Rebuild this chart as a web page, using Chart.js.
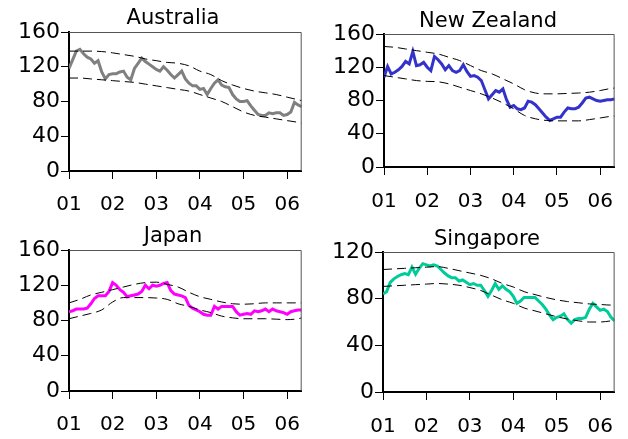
<!DOCTYPE html>
<html>
<head>
<meta charset="utf-8">
<script src="https://cdn.jsdelivr.net/npm/chart.js@4.4.0/dist/chart.umd.min.js"></script>
<style>
  html, body { margin: 0; padding: 0; background: #fff; overflow: hidden; }
  body { width: 628px; height: 439px; position: relative; }
  canvas { position: absolute; }
</style>
</head>
<body>
<canvas id="aus" width="314" height="220" style="left:0;top:0"></canvas>
<canvas id="nz" width="314" height="220" style="left:314px;top:0"></canvas>
<canvas id="jp" width="314" height="219" style="left:0;top:220px"></canvas>
<canvas id="sg" width="314" height="219" style="left:314px;top:220px"></canvas>
<script>
// monthly values from Jan 2001, bands read quarterly
const yearLabels = ["01", "02", "03", "04", "05", "06"];
const bandMonths = [0, 3, 6, 9, 12, 15, 18, 21, 24, 27, 30, 33, 36, 39, 42, 45, 48, 51, 54, 57, 60, 63, 64];

const australia = [118, 128, 138, 140, 135, 131, 129, 124, 127, 114,
  106, 111, 112, 112, 114, 115, 108, 105, 118, 124,
  130, 126, 123, 120, 117, 115, 120, 116, 111, 107,
  111, 115, 106, 101, 98, 98, 94, 95, 88, 95,
  101, 105, 99, 97, 96, 88, 83, 80, 80, 81,
  75, 70, 65, 64, 64, 67, 66, 67, 67, 64,
  65, 68, 79, 76, 74];
const australiaUpper = [138, 138, 138, 137.5, 136, 134, 132, 129, 127, 125, 124, 121, 115, 111, 104, 99, 95, 92, 90, 88, 85, 82, 81];
const australiaLower = [107, 107, 106, 105, 104, 103, 102, 100, 98, 96, 94, 92, 88, 84, 80, 74, 68, 64, 62, 60, 58, 56, 55];

const newZealand = [108, 121, 112, 114, 117, 121, 127, 124, 139, 122,
  123, 126, 120, 116, 133, 129, 124, 117, 122, 116,
  114, 116, 123, 115, 109, 110, 108, 104, 93, 82,
  87, 92, 90, 94, 81, 72, 74, 70, 69, 71,
  79, 78, 75, 70, 65, 60, 56, 58, 60, 60,
  66, 71, 70, 70, 72, 77, 83, 84, 82, 80,
  79, 80, 81, 81, 82];
const newZealandUpper = [145, 144, 142, 140, 138, 136, 132, 128, 122, 116, 112, 106, 100, 93, 89, 88, 88, 88.5, 89, 90, 92, 94.5, 95];
const newZealandLower = [110, 108, 106, 104, 103, 102.5, 100, 96, 92, 88, 83, 77, 70, 62, 58, 56, 55.5, 55.5, 55.5, 57, 59, 61, 61.5];

const japan = [90, 91, 93, 93, 93, 94, 99, 105, 108, 108,
  108, 113, 123, 120, 115, 112, 107, 108, 109, 110,
  113, 120, 116, 120, 119, 120, 122, 123, 114, 110,
  109, 108, 106, 97, 94, 92, 90, 87, 86, 86,
  96, 93, 96, 96, 96, 96, 90, 86, 87, 88,
  87, 91, 90, 91, 93, 90, 93, 91, 90, 89,
  87, 90, 91, 92, 92];
const japanUpper = [100, 104, 109, 112, 115, 118, 121, 123, 123.5, 121, 118, 112, 107, 104, 101, 99, 98.5, 99, 100, 100, 100, 100, 100];
const japanLower = [82, 85, 88, 92, 101, 106, 106, 106, 105.5, 104, 99, 96, 92, 89, 85, 83, 82, 82, 82, 81.5, 81, 82, 83];

const singapore = [84, 86, 94, 97, 99, 100.5, 101.5, 100.5, 107, 101,
  106, 110, 109, 108, 109, 108, 105, 102, 99.5, 98,
  98, 95, 96, 94, 92, 93, 91.5, 91.5, 87, 82,
  87, 93, 88, 91, 88, 86, 82, 76, 78, 81,
  81, 81, 81, 78, 75, 71, 66, 62, 64, 65,
  67, 62, 59, 62, 63, 63, 64, 71, 76, 73,
  70, 71, 69, 64, 61];
const singaporeUpper = [105, 105.5, 106, 106.5, 107, 107.5, 106, 104, 102, 100, 97, 93, 90, 86, 83.5, 81, 79, 77.5, 76.5, 75.5, 75, 74.5, 74.5];
const singaporeLower = [90.5, 91, 91.5, 92, 92.5, 93, 92.5, 91.5, 89.5, 87, 83, 79, 76, 72, 69.5, 67, 64.5, 62.5, 61, 60, 60, 61, 61.5];

const FONT = "'DejaVu Sans', Verdana, sans-serif";

// grey top/right edges of the plot box
const framePlugin = {
  id: "frame",
  afterDraw(chart) {
    const { ctx, chartArea: a } = chart;
    ctx.save();
    ctx.strokeStyle = "#555";
    ctx.lineWidth = 1;
    ctx.beginPath();
    ctx.moveTo(a.left, a.top + 0.5);
    ctx.lineTo(a.right - 0.5, a.top + 0.5);
    ctx.lineTo(a.right - 0.5, a.bottom);
    ctx.stroke();
    ctx.restore();
  }
};

// panel title, sits a bit left of the plot centre like the original
const titlePlugin = {
  id: "panelTitle",
  afterDraw(chart, args, opts) {
    const { ctx, chartArea: a } = chart;
    ctx.save();
    ctx.font = "21px " + FONT;
    ctx.fillStyle = "#000";
    ctx.textAlign = "center";
    ctx.textBaseline = "middle";
    ctx.fillText(opts.text, a.left + 104, opts.y);
    ctx.restore();
  }
};

function monthly(values) {
  return values.map((v, i) => ({ x: i / 12, y: v }));
}

function band(values) {
  return values.map((v, i) => ({ x: bandMonths[i] / 12, y: v }));
}

function makePanel(id, title, values, upper, lower, color, yMax, L) {
  const dashed = {
    borderColor: "#000",
    borderWidth: 1,
    borderDash: [9, 5],
    pointRadius: 0,
    cubicInterpolationMode: "monotone",
    fill: false,
  };
  new Chart(document.getElementById(id), {
    type: "line",
    data: {
      datasets: [
        { data: band(upper), ...dashed },
        { data: band(lower), ...dashed },
        {
          data: monthly(values),
          borderColor: color,
          borderWidth: 3,
          pointRadius: 0,
          tension: 0,
          fill: false,
        },
      ],
    },
    options: {
      responsive: false,
      animation: false,
      layout: { padding: { left: 0, right: L.pr, top: L.top, bottom: 0 } },
      plugins: {
        legend: { display: false },
        tooltip: { enabled: false },
        panelTitle: { text: title, y: L.ty },
      },
      scales: {
        x: {
          type: "linear",
          min: 0,
          max: 64 / 12,
          afterFit: (s) => { s.height = L.xh; },
          border: { display: true, color: "#000", width: 2 },
          grid: { drawOnChartArea: false, drawTicks: true, tickLength: 8, color: "#000" },
          ticks: {
            stepSize: 1,
            includeBounds: false,
            autoSkip: false,
            maxRotation: 0,
            padding: L.xp,
            color: "#000",
            font: { family: FONT, size: 20 },
            callback: (v) => yearLabels[v],
          },
        },
        y: {
          min: 0,
          max: yMax,
          afterFit: (s) => { s.width = L.yw; },
          border: { display: true, color: "#000", width: 2 },
          grid: { drawOnChartArea: false, drawTicks: true, tickLength: 8, color: "#000" },
          ticks: {
            stepSize: 40,
            padding: 1,
            color: "#000",
            font: { family: FONT, size: 22 },
          },
        },
      },
    },
    plugins: [framePlugin, titlePlugin],
  });
}

makePanel("aus", "Australia", australia, australiaUpper, australiaLower, "#808080", 160,
  { pr: 2, yw: 69, xh: 49, top: 32, ty: 18.5, xp: 14 });
makePanel("nz", "New Zealand", newZealand, newZealandUpper, newZealandLower, "#3333CC", 160,
  { pr: 1, yw: 70, xh: 53, top: 34, ty: 22, xp: 15 });
makePanel("jp", "Japan", japan, japanUpper, japanLower, "#FF00FF", 160,
  { pr: 2, yw: 69, xh: 48, top: 30, ty: 17, xp: 14 });
makePanel("sg", "Singapore", singapore, singaporeUpper, singaporeLower, "#00CC99", 120,
  { pr: 2, yw: 69, xh: 47, top: 32, ty: 19.5, xp: 15 });
</script>
</body>
</html>
